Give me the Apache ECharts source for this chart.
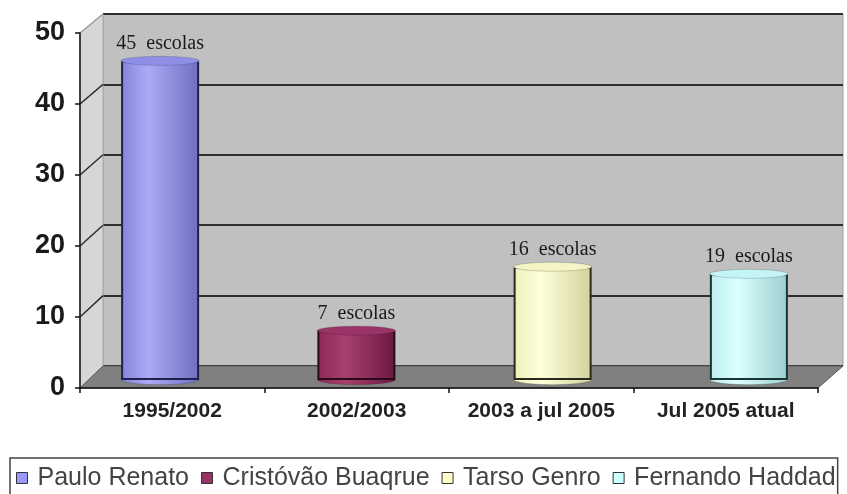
<!DOCTYPE html>
<html>
<head>
<meta charset="utf-8">
<script src="https://cdn.jsdelivr.net/npm/echarts@6/dist/echarts.min.js"></script>
<style>
html, body { margin: 0; padding: 0; background: #fff; }
#chart { width: 847px; height: 494px; }
</style>
</head>
<body>
<div id="chart"></div>
<script>
// dados do gráfico
var periods = ['1995/2002', '2002/2003', '2003 a jul 2005', 'Jul 2005 atual'];
var ministers = ['Paulo Renato', 'Cristóvão Buaqrue', 'Tarso Genro', 'Fernando Haddad'];
var barValues = [45, 7, 16, 15];      // altura desenhada das colunas
var schoolCounts = [45, 7, 16, 19];   // número escrito nos rótulos
var yTicks = [0, 10, 20, 30, 40, 50];

// cores (paleta clássica do Excel)
var legendColors = ['#9999ff', '#993366', '#ffffcc', '#ccffff'];
var barShades = [
    ['#8585da', '#aaaaf6', '#6f6fc2'],
    ['#8c2858', '#a8406f', '#6a1842'],
    ['#eeeebc', '#ffffdc', '#d2d29c'],
    ['#bdeeee', '#dcffff', '#9ccfcf']
];
var topColors = ['#8f8fe8', '#9a3466', '#f4f4c4', '#c4f4f4'];
var edgeColors = ['#20204a', '#2a0a1a', '#2a2a1a', '#1a3333'];

var yMin = yTicks[0], yMax = yTicks[yTicks.length - 1], yStep = yTicks[1] - yTicks[0];

// caixas: parede do fundo, eixo da frente, colunas (profundidade média)
var back = { left: 103, right: 4, top: 14, bottom: 128 };
var front = { left: 80, right: 29, top: 33, bottom: 106 };
var mid = { left: 62, right: 0, top: 25, bottom: 114 };
var W = 847, H = 494;

function grad(c) {
    return {
        type: 'linear', x: 0, y: 0, x2: 1, y2: 0,
        colorStops: [
            { offset: 0, color: c[0] },
            { offset: 0.35, color: c[1] },
            { offset: 1, color: c[2] }
        ]
    };
}

var series = [];
ministers.forEach(function (name, i) {
    var data = periods.map(function (p, j) { return j === i ? barValues[i] : '-'; });
    // base arredondada do cilindro
    series.push({
        type: 'pictorialBar', xAxisIndex: 2, yAxisIndex: 2,
        symbol: 'circle', symbolSize: [78, 10], symbolOffset: [0, '50%'],
        symbolPosition: 'start', z: 1.5, silent: true,
        itemStyle: { color: grad(barShades[i]), borderColor: edgeColors[i], borderWidth: 2 },
        data: data
    });
    series.push({
        name: name, type: 'bar', xAxisIndex: 2, yAxisIndex: 2,
        stack: 'cil', barWidth: 78, z: 2,
        itemStyle: { color: grad(barShades[i]), borderColor: edgeColors[i], borderWidth: 2 },
        label: {
            show: true, position: 'top', distance: 7,
            fontFamily: 'Liberation Serif', fontSize: 20, color: '#1a1a1a',
            formatter: function (p) { return schoolCounts[p.dataIndex] + '  escolas'; }
        },
        data: data
    });
    // topo do cilindro
    series.push({
        type: 'pictorialBar', xAxisIndex: 2, yAxisIndex: 2,
        symbol: 'circle', symbolSize: [78, 9], symbolOffset: [0, '-50%'],
        symbolPosition: 'end', z: 3, silent: true,
        itemStyle: { color: topColors[i], borderColor: edgeColors[i], borderWidth: 2 },
        data: data
    });
});

var option = {
    animation: false,
    backgroundColor: '#ffffff',
    grid: [
        { left: back.left, right: back.right, top: back.top, bottom: back.bottom,
          show: true, backgroundColor: '#c0c0c0', borderColor: '#a0a0a0', borderWidth: 1 },
        { left: front.left, right: front.right, top: front.top, bottom: front.bottom },
        { left: mid.left, right: mid.right, top: mid.top, bottom: mid.bottom }
    ],
    xAxis: [
        { type: 'category', gridIndex: 0, data: periods, show: false },
        {
            type: 'category', gridIndex: 1, data: periods, z: 10,
            axisLine: { show: true, lineStyle: { color: '#111', width: 1.5 } },
            axisTick: { show: true, length: 5, lineStyle: { color: '#111', width: 1.5 } },
            axisLabel: { interval: 0, fontFamily: 'Liberation Sans', fontWeight: 'bold', fontSize: 21, color: '#222', margin: 13 }
        },
        { type: 'category', gridIndex: 2, data: periods, show: false }
    ],
    yAxis: [
        {
            type: 'value', gridIndex: 0, min: yMin, max: yMax, interval: yStep,
            axisLine: { show: false }, axisTick: { show: false }, axisLabel: { show: false },
            splitLine: { show: true, lineStyle: { color: '#2e2e2e', width: 2 } }
        },
        {
            type: 'value', gridIndex: 1, min: yMin, max: yMax, interval: yStep, z: 10,
            axisLine: { show: true, lineStyle: { color: '#111', width: 1.5 } },
            axisTick: { show: true, length: 5, lineStyle: { color: '#111', width: 1.5 } },
            splitLine: { show: false },
            axisLabel: { fontFamily: 'Liberation Sans', fontWeight: 'bold', fontSize: 27, color: '#1a1a1a', margin: 15 }
        },
        { type: 'value', gridIndex: 2, min: yMin, max: yMax, show: false, splitLine: { show: false } }
    ],
    legend: {
        left: 10, top: 458,
        data: ministers.map(function (n, i) {
            return { name: n, itemStyle: { color: legendColors[i], borderColor: '#333', borderWidth: 1 } };
        }),
        icon: 'rect', itemWidth: 11, itemHeight: 11, itemGap: 12,
        textStyle: { fontFamily: 'Liberation Sans', fontSize: 25, color: '#444', lineHeight: 26, padding: [0, 0, 0, 5] },
        borderColor: '#444', borderWidth: 1.5, padding: [7, 2, 10, 6]
    },
    series: series
};

var chart = echarts.init(document.getElementById('chart'));
chart.setOption(option);

// parede lateral, piso e linhas diagonais
function yf(v) { return chart.convertToPixel({ gridIndex: 1 }, [0, v])[1]; }
function yb(v) { return chart.convertToPixel({ gridIndex: 0 }, [0, v])[1]; }
var fx0 = front.left, fx1 = W - front.right, bx0 = back.left, bx1 = W - back.right;
var shapes = [
    { type: 'polygon', z: 1, silent: true,
      shape: { points: [[fx0, yf(yMin)], [fx0, yf(yMax)], [bx0, yb(yMax)], [bx0, yb(yMin)]] },
      style: { fill: '#d6d6d6', stroke: '#a8a8a8', lineWidth: 1 } },
    { type: 'polygon', z: 1, silent: true,
      shape: { points: [[fx0, yf(yMin)], [fx1, yf(yMin)], [bx1, yb(yMin)], [bx0, yb(yMin)]] },
      style: { fill: '#808080', stroke: '#5a5a5a', lineWidth: 1 } }
];
yTicks.forEach(function (v) {
    if (v === yMin) return;
    shapes.push({ type: 'line', z: 1, silent: true,
        shape: { x1: fx0, y1: yf(v), x2: bx0, y2: yb(v) },
        style: { stroke: v === yMax ? '#a0a0a0' : '#2e2e2e', lineWidth: 1.5 } });
});
chart.setOption({ graphic: { elements: shapes } });
</script>
</body>
</html>
